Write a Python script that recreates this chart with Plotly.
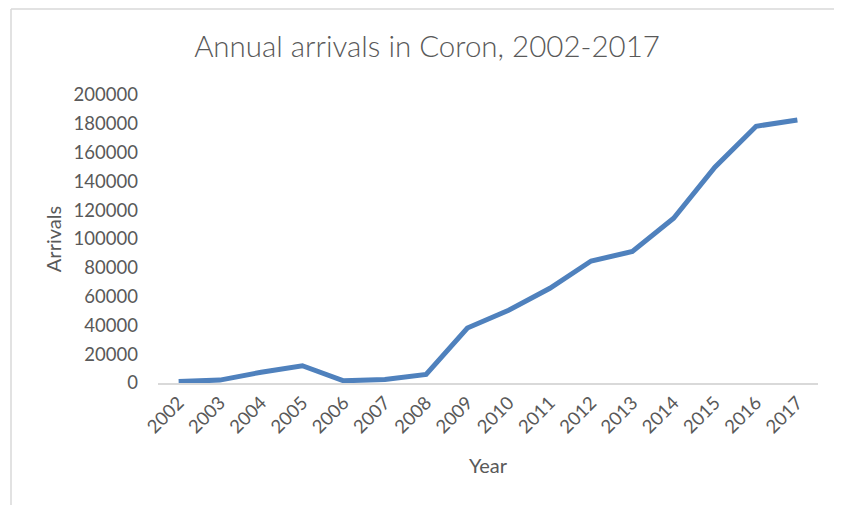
import plotly.graph_objects as go

years = [str(y) for y in range(2002, 2018)]
arrivals = [1000, 2000, 7500, 12000, 1500, 2500, 6000, 38200, 50500, 65800,
            84700, 91300, 114400, 149800, 178300, 182600]
y_ticks = list(range(0, 200001, 20000))

# page has an 8px body margin; figure coordinates = page coordinates - 8
OFF = 8
W, H = 842 - OFF, 505 - OFF
L, T = 158 - OFF, 95 - OFF
R = W - (818 - OFF)
B = H - (383 - OFF)
pw, ph = W - L - R, H - T - B

def px_x(px):
    return (px - OFF - L) / pw

def px_y(py):
    return (H - B - (py - OFF)) / ph

fig = go.Figure()
fig.add_trace(go.Scatter(
    x=years, y=arrivals, mode="lines",
    line=dict(color="#4f81bd", width=5),
    hoverinfo="x+y", showlegend=False,
))

font = "Lato, 'Liberation Sans', sans-serif"
fig.update_layout(
    width=W, height=H,
    margin=dict(l=L, r=R, t=T, b=B),
    paper_bgcolor="white", plot_bgcolor="white",
    font=dict(family=font, color="#595959", size=18.5),
    title=dict(text="Annual arrivals in Coron, 2002-2017",
               x=(427 - OFF) / W, xanchor="center",
               y=1 - (47 - OFF) / H, yanchor="middle",
               font=dict(size=29.5, color="#595959", family=font, weight=300)),
    xaxis=dict(type="category", showgrid=False, showline=True,
               linecolor="#d9d9d9", linewidth=1.5, ticks="",
               tickangle=-45, tickfont=dict(size=18.5),
               title=dict(text="Year", font=dict(size=20), standoff=23),
               range=[-0.5, len(years) - 0.5]),
    yaxis=dict(range=[0, 200000], tickvals=y_ticks,
               ticktext=[str(v) for v in y_ticks],
               showgrid=False, showline=False, zeroline=False, ticks="",
               tickfont=dict(size=18.5), ticklabelstandoff=19,
               title=dict(text="Arrivals", font=dict(size=20), standoff=6)),
    shapes=[
        dict(type="line", xref="paper", yref="paper",
             x0=px_x(11), x1=px_x(842), y0=px_y(9), y1=px_y(9),
             line=dict(color="#d9d9d9", width=1.5)),
        dict(type="line", xref="paper", yref="paper",
             x0=px_x(11), x1=px_x(11), y0=px_y(9), y1=px_y(505),
             line=dict(color="#d9d9d9", width=1.5)),
    ],
)

fig.write_html("out.html")
